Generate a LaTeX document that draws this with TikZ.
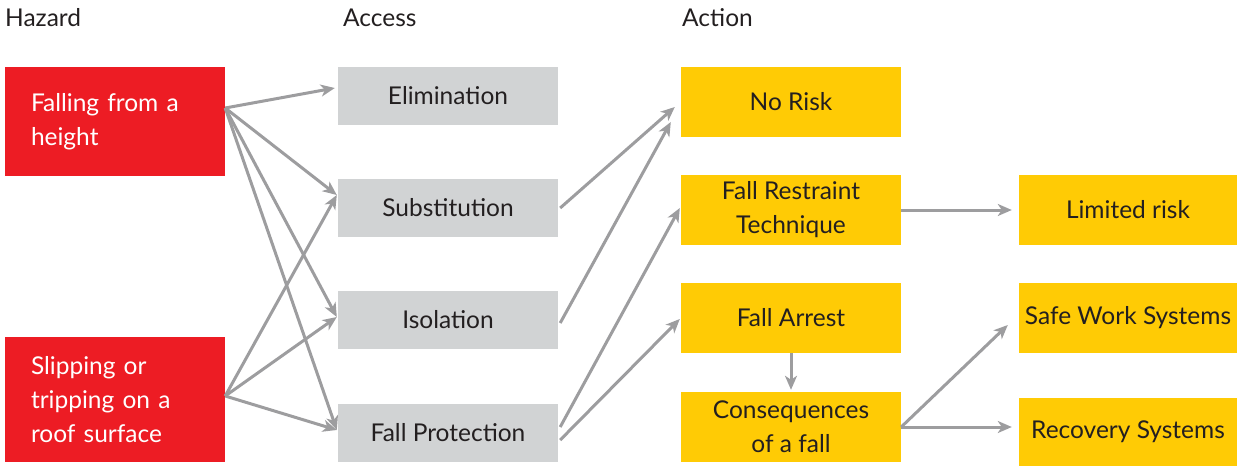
\documentclass[tikz,border=0pt]{standalone}
\usepackage{fontspec}
\setmainfont{Lato}
\usepackage{tikz}
\usetikzlibrary{arrows.meta, positioning}
\definecolor{hazardred}{HTML}{ED1C24}
\definecolor{accessgray}{HTML}{D1D3D4}
\definecolor{actionyellow}{HTML}{FFCB05}
\definecolor{arrowgray}{HTML}{9D9D9F}
\definecolor{textdark}{HTML}{231F20}

\begin{document}
\begin{tikzpicture}[x=1pt, y=-1pt,
  every node/.style={font=\fontsize{24.5}{34}\selectfont, text=textdark},
  hazard/.style={fill=hazardred, text=white, minimum width=220pt, align=left, text width=168pt, inner xsep=26pt},
  access/.style={fill=accessgray, minimum width=220pt, minimum height=58pt, align=center},
  action/.style={fill=actionyellow, minimum width=220pt, minimum height=70pt, align=center, inner ysep=2pt},
  head/.style={anchor=base west, inner sep=0pt},
  >={Stealth[length=14pt, width=12pt, inset=4pt]}]
\useasboundingbox (0,0) rectangle (1237,466);
\node[head] (hazardhead) at (5,26) {Hazard};
\node[head] (accesshead) at (343,26) {Access};
\node[head] (actionhead) at (682,26) {Action};
\node[hazard, minimum height=109pt] (fall) at (115,121.5) {Falling from a\\height};
\node[hazard, minimum height=125pt] (slip) at (115,399.5) {Slipping or\\tripping on a\\roof surface};
\node[access] (elim) at (448,96) {Elimination};
\node[access] (subst) at (448,208) {Substitution};
\node[access] (isol) at (448,320) {Isolation};
\node[access] (fallprot) at (448,433) {Fall Protection};
\node[action] (norisk) at (791,102) {No Risk};
\node[action] (restraint) at (791,210) {Fall Restraint\\Technique};
\node[action] (arrest) at (791,318) {Fall Arrest};
\node[action] (conseq) at (791,427) {Consequences\\of a fall};
\node[action, minimum width=218pt] (limited) at (1128,210) {Limited risk};
\node[action, minimum width=218pt] (safework) at (1128,318) {Safe Work Systems};
\node[action, minimum width=218pt, minimum height=68pt] (recovery) at (1128,432) {Recovery Systems};
\begin{scope}[draw=arrowgray, line width=3pt]
\draw[->] ([yshift=13.5pt]fall.east) -- ([xshift=-3pt, yshift=8pt]elim.west);
\draw[->] ([yshift=13.5pt]fall.east) -- ([xshift=-1pt, yshift=13pt]subst.west);
\draw[->] ([yshift=13.5pt]fall.east) -- ([xshift=-1pt, yshift=3pt]isol.west);
\draw[->] ([yshift=13.5pt]fall.east) -- ([xshift=-1pt, yshift=3pt]fallprot.west);
\draw[->] ([yshift=3.5pt]slip.east) -- ([xshift=-1pt, yshift=13pt]subst.west);
\draw[->] ([yshift=3.5pt]slip.east) -- ([xshift=-1pt, yshift=3pt]isol.west);
\draw[->] ([yshift=3.5pt]slip.east) -- ([xshift=-1pt, yshift=3pt]fallprot.west);
\draw[->] ([xshift=2pt]subst.east) -- ([xshift=-6pt, yshift=-5pt]norisk.west);
\draw[->] ([xshift=2pt, yshift=-3pt]isol.east) -- ([xshift=-10pt, yshift=-20pt]norisk.west);
\draw[->] ([xshift=2pt, yshift=6pt]fallprot.east) -- ([xshift=-1pt, yshift=2pt]restraint.west);
\draw[->] ([xshift=2pt, yshift=-7pt]fallprot.east) -- ([xshift=-1pt, yshift=-1pt]arrest.west);
\draw[->] (restraint.east) -- ([xshift=-7pt]limited.west);
\draw[->] (arrest.south) -- ([yshift=2pt]conseq.north);
\draw[->] (conseq.east) -- ([xshift=-11pt, yshift=-7pt]safework.west);
\draw[->] (conseq.east) -- ([xshift=-7pt, yshift=5pt]recovery.west);
\end{scope}
\end{tikzpicture}
\end{document}
